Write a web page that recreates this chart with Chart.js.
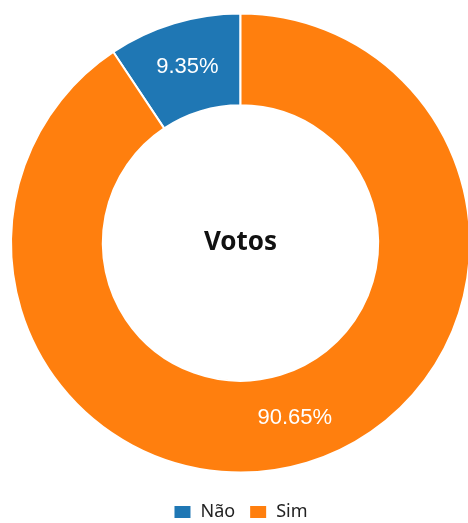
<!DOCTYPE html>
<html>
<head>
<meta charset="utf-8">
<script src="https://cdn.jsdelivr.net/npm/chart.js@4"></script>
<style>
  html, body { margin: 0; padding: 0; background: #fff; overflow: hidden; }
  /* a bit wider/taller than the window: the ring is clipped on the right like the original */
  #wrap { width: 471px; height: 531px; }
</style>
</head>
<body>
<div id="wrap"><canvas id="votosChart"></canvas></div>
<script>
// Categories and shares (%)
var labels = ["Não", "Sim"];
var votos = [9.35, 90.65];
var cores = ["#1f77b4", "#ff7f0e"];
var centerTitle = "Votos";

// where the label of each slice sits (degrees, canvas angle); null = middle of slice
var labelAngles = [null, 72.8];

var pctLabels = {
  id: "pctLabels",
  afterDatasetsDraw: function (chart) {
    var ctx = chart.ctx;
    var meta = chart.getDatasetMeta(0);
    ctx.save();
    ctx.fillStyle = "#fff";
    ctx.font = "22px 'Liberation Sans', Arial, sans-serif";
    ctx.textAlign = "center";
    ctx.textBaseline = "middle";
    meta.data.forEach(function (arc, i) {
      var p = arc.getProps(["x", "y", "startAngle", "endAngle", "innerRadius", "outerRadius"], true);
      var a = labelAngles[i] === null ? (p.startAngle + p.endAngle) / 2 : labelAngles[i] * Math.PI / 180;
      var r = (p.innerRadius + p.outerRadius) / 2;
      ctx.fillText(votos[i].toFixed(2) + "%", p.x + Math.cos(a) * r, p.y + Math.sin(a) * r);
    });
    // title in the hole
    var c = meta.data[0];
    ctx.fillStyle = "#111";
    ctx.font = "bold 26px 'Noto Sans', 'Open Sans', sans-serif";
    ctx.fillText(centerTitle, c.x, c.y);
    ctx.restore();
  }
};

new Chart(document.getElementById("votosChart"), {
  type: "doughnut",
  data: {
    labels: labels,
    datasets: [
      {
        data: votos,
        backgroundColor: cores,
        borderColor: "#fff",
        borderWidth: 2,
        hoverOffset: 0,
        hoverBorderWidth: 2
      }
    ]
  },
  options: {
    responsive: true,
    maintainAspectRatio: false,
    animation: false,
    cutout: "60%",
    rotation: -33.66,
    layout: { padding: { top: 12, left: 10, right: 0, bottom: 0 } },
    plugins: {
      tooltip: { enabled: false },
      legend: {
        position: "bottom",
        // empty title only used as a spacer above the items
        title: { display: true, text: "", padding: 0, font: { size: 15, lineHeight: 1 } },
        labels: {
          boxWidth: 18,
          boxHeight: 14,
          padding: 14,
          color: "#222",
          font: { family: "'Noto Sans', sans-serif", size: 18 }
        }
      }
    }
  },
  plugins: [pctLabels]
});
</script>
</body>
</html>
